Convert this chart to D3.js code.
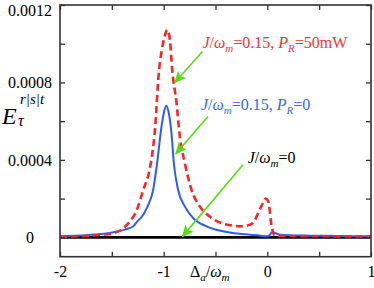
<!DOCTYPE html>
<html>
<head>
<meta charset="utf-8">
<script src="https://cdn.jsdelivr.net/npm/d3@7"></script>
<style>
  body { margin: 0; background: #fff; }
  svg { display: block; }
</style>
</head>
<body>
<script>
// detuning values (Delta_a / omega_m) and curves
const redX = [-2.0, -1.8, -1.6, -1.5, -1.4, -1.33, -1.26, -1.2, -1.124, -1.085, -1.044, -1.02, -0.99, -0.963, -0.94, -0.918, -0.876, -0.844, -0.796, -0.732, -0.652, -0.55, -0.45, -0.35, -0.267, -0.2, -0.139, -0.074, -0.04, -0.015, 0.005, 0.022, 0.035, 0.048, 0.07, 0.15, 0.4, 0.7, 1.0];
const redY = [0.03, 0.06, 0.13, 0.2, 0.42, 0.8, 1.4, 2.4, 3.84, 5.5, 8.66, 9.6, 10.4, 10.72, 10.2, 8.66, 6.94, 5.21, 3.84, 2.46, 1.6, 1.05, 0.75, 0.62, 0.57, 0.6, 0.74, 1.43, 1.8, 2.0, 1.9, 1.43, 0.8, 0.4, 0.1, 0.07, 0.06, 0.05, 0.04];

const blueX = [-2.0, -1.8, -1.6, -1.518, -1.45, -1.374, -1.294, -1.25, -1.213, -1.155, -1.101, -1.063, -1.025, -1.0, -0.975, -0.95, -0.925, -0.902, -0.861, -0.796, -0.716, -0.587, -0.459, -0.363, -0.267, -0.074, 0.006, 0.048, 0.12, 0.31, 0.7, 1.0];
const blueY = [0.05, 0.1, 0.17, 0.23, 0.3, 0.4, 0.57, 0.85, 1.05, 1.6, 2.46, 3.84, 5.56, 6.4, 6.8, 6.4, 5.4, 3.84, 2.46, 1.6, 1.0, 0.57, 0.35, 0.25, 0.18, 0.09, 0.05, 0.26, 0.14, 0.09, 0.07, 0.05];

const blackX = [-2, 1];
const blackY = [0, 0];

const unit = 1e-4;
const xTicks = [-2, -1, 0, 1];
const xMinor = [-1.5, -0.5, 0.5];
const yTicks = [0, 0.0004, 0.0008, 0.0012];
const yMinor = [0.0002, 0.0006, 0.001];

const W = 374, H = 288;
const mLeft = 60, mRight = 371, mTop = 5, mBottom = 256.7;
const serif = "Liberation Serif, Times New Roman, serif";

const svg = d3.select("body").append("svg")
  .attr("width", W)
  .attr("height", H);

const x = d3.scaleLinear().domain([-2, 1]).range([mLeft, mRight]);
const y = d3.scaleLinear().domain([-0.0001, 0.0012]).range([mBottom, mTop]);

const line = d3.line()
  .x(d => x(d[0]))
  .y(d => y(d[1]))
  .curve(d3.curveMonotoneX);

// curves
svg.append("path")
  .datum(blackX.map((v, i) => [v, blackY[i]]))
  .attr("d", line)
  .attr("fill", "none")
  .attr("stroke", "#000")
  .attr("stroke-width", 2.6);

svg.append("path")
  .datum(blueX.map((v, i) => [v, blueY[i] * unit]))
  .attr("d", line)
  .attr("fill", "none")
  .attr("stroke", "#2b5cf5")
  .attr("stroke-width", 2);

svg.append("path")
  .datum(redX.map((v, i) => [v, redY[i] * unit]))
  .attr("d", line)
  .attr("fill", "none")
  .attr("stroke", "#ff2424")
  .attr("stroke-width", 2.6)
  .attr("stroke-dasharray", "7,4");

// frame and ticks
const frameColor = "#333";
function styleAxis(g) {
  g.attr("font-family", serif);
  g.select(".domain").remove();
  g.selectAll(".tick line").attr("stroke", frameColor).attr("stroke-width", 1.3);
  g.selectAll("text").attr("font-family", serif).attr("font-size", "16px").attr("fill", "#000");
}

const xAxis = svg.append("g")
  .attr("transform", `translate(0,${mBottom})`)
  .call(d3.axisBottom(x).tickValues(xTicks).tickSizeInner(-5).tickSizeOuter(0).tickFormat(d => String(d)))
  .call(styleAxis);
xAxis.selectAll("text").attr("y", 9);

svg.append("g")
  .attr("transform", `translate(0,${mBottom})`)
  .call(d3.axisBottom(x).tickValues(xMinor).tickSizeInner(-5).tickSizeOuter(0).tickFormat(""))
  .call(styleAxis);

svg.append("g")
  .attr("transform", `translate(0,${mTop})`)
  .call(d3.axisTop(x).tickValues(xTicks.concat(xMinor)).tickSizeInner(-5).tickSizeOuter(0).tickFormat(""))
  .call(styleAxis);

const yAxis = svg.append("g")
  .attr("transform", `translate(${mLeft},0)`)
  .call(d3.axisLeft(y).tickValues(yTicks).tickSizeInner(-5).tickSizeOuter(0).tickFormat(d => d === 0 ? "0" : d3.format(".4f")(d)))
  .call(styleAxis);
yAxis.selectAll("text")
  .attr("x", -30)
  .attr("text-anchor", "middle")
  .attr("y", d => d === 0.0012 ? 5 : 0);

svg.append("g")
  .attr("transform", `translate(${mLeft},0)`)
  .call(d3.axisLeft(y).tickValues(yMinor).tickSizeInner(-5).tickSizeOuter(0).tickFormat(""))
  .call(styleAxis);

svg.append("g")
  .attr("transform", `translate(${mRight},0)`)
  .call(d3.axisRight(y).tickValues(yTicks.concat(yMinor)).tickSizeInner(-5).tickSizeOuter(0).tickFormat(""))
  .call(styleAxis);

svg.append("rect")
  .attr("x", mLeft)
  .attr("y", mTop)
  .attr("width", mRight - mLeft)
  .attr("height", mBottom - mTop)
  .attr("fill", "none")
  .attr("stroke", frameColor)
  .attr("stroke-width", 1.6);

// arrows
const green = "#55dd11";
svg.append("defs").append("marker")
  .attr("id", "head")
  .attr("viewBox", "0 -6 12 12")
  .attr("refX", 11)
  .attr("refY", 0)
  .attr("markerWidth", 12)
  .attr("markerHeight", 12)
  .attr("markerUnits", "userSpaceOnUse")
  .attr("orient", "auto")
  .append("path")
  .attr("d", "M0,-5.5L12,0L0,5.5L3,0Z")
  .attr("fill", green);

const arrowFrom = [[-0.626, 0.00096], [-0.572, 0.000624], [-0.235, 0.000375]];
const arrowTo = [[-0.892, 0.0008], [-0.883, 0.000432], [-0.818, 0.000005]];

arrowFrom.forEach((a, i) => {
  svg.append("line")
    .attr("x1", x(a[0])).attr("y1", y(a[1]))
    .attr("x2", x(arrowTo[i][0])).attr("y2", y(arrowTo[i][1]))
    .attr("stroke", green)
    .attr("stroke-width", 1.6)
    .attr("marker-end", "url(#head)");
});

// annotation labels
function label(px, py, color, parts) {
  const t = svg.append("text")
    .attr("x", px).attr("y", py)
    .attr("font-family", serif)
    .attr("font-size", "16px")
    .attr("fill", color);
  parts.forEach(p => {
    const s = t.append("tspan").text(p.t);
    if (p.i) s.attr("font-style", "italic");
    if (p.sub) s.attr("font-size", "11px").attr("dy", 4);
    if (p.up) s.attr("dy", -4);
  });
  return t;
}

label(x(-0.626), y(0.00098), "#ff3030", [
  {t: "J", i: 1}, {t: "/"}, {t: "ω", i: 1}, {t: "m", i: 1, sub: 1},
  {t: "=0.15, ", up: 1}, {t: "P", i: 1}, {t: "R", i: 1, sub: 1}, {t: "=50mW", up: 1}
]);

label(x(-0.64), y(0.00066), "#3366ff", [
  {t: "J", i: 1}, {t: "/"}, {t: "ω", i: 1}, {t: "m", i: 1, sub: 1},
  {t: "=0.15, ", up: 1}, {t: "P", i: 1}, {t: "R", i: 1, sub: 1}, {t: "=0", up: 1}
]);

label(x(-0.19), y(0.000386), "#000", [
  {t: "J", i: 1}, {t: "/"}, {t: "ω", i: 1}, {t: "m", i: 1, sub: 1}, {t: "=0", up: 1}
]);

// axis titles
label(190, 277, "#000", [
  {t: "Δ"}, {t: "a", i: 1, sub: 1}, {t: "/", up: 1}, {t: "ω", i: 1}, {t: "m", i: 1, sub: 1}
]);

svg.append("text")
  .attr("x", 2).attr("y", 124)
  .attr("font-family", serif).attr("font-size", "24px").attr("font-style", "italic")
  .text("E");
svg.append("text")
  .attr("x", 18).attr("y", 126)
  .attr("font-family", serif).attr("font-size", "16px").attr("font-style", "italic")
  .text("τ");
svg.append("text")
  .attr("x", 20).attr("y", 104)
  .attr("font-family", serif).attr("font-size", "15px").attr("font-style", "italic")
  .text("r|s|t");
</script>
</body>
</html>
